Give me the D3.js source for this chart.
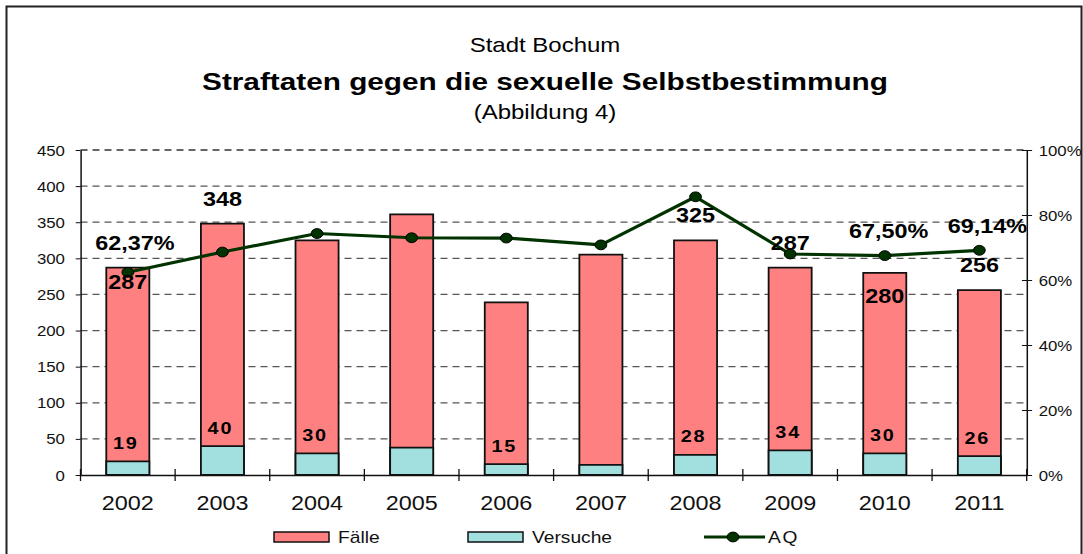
<!DOCTYPE html>
<html>
<head>
<meta charset="utf-8">
<script src="https://cdn.jsdelivr.net/npm/d3@7"></script>
<style>
  html, body { margin: 0; padding: 0; background: #fff; }
  svg { display: block; font-family: "Liberation Sans", Arial, sans-serif; }
</style>
</head>
<body>
<svg width="1083" height="554"></svg>
<script>
// data
const years = ['2002', '2003', '2004', '2005', '2006', '2007', '2008', '2009', '2010', '2011'];
const faelle = [287, 348, 325, 361, 239, 305, 325, 287, 280, 256];
const versuche = [19, 40, 30, 38, 15, 14, 28, 34, 30, 26];
const aq = [62.37, 68.6, 74.3, 73.0, 72.9, 70.8, 85.6, 68.0, 67.50, 69.14];
const leftTicks = [0, 50, 100, 150, 200, 250, 300, 350, 400, 450];
const rightTicks = [0, 20, 40, 60, 80, 100];

// which labels are shown and where they sit (offsets from the mark, px)
const faelleLabelDy = [21, -18, null, null, null, null, -18, -18, 30, -18];
const versucheLabelOn = [true, true, true, false, true, false, true, true, true, true];
const aqLabelOff = [[7, -22], null, null, null, null, null, null, null, [4, -18], [8, -17]];

const svg = d3.select('svg');
const width = +svg.attr('width');
const height = +svg.attr('height');

// the original picture is stretched sideways, so draw in a squeezed space
const S = 1.2;
const X = v => v / S;
const font = '"Liberation Sans", Arial, sans-serif';

const root = svg.append('g').attr('transform', `scale(${S},1)`);

const plot = {left: 80.5, right: 1026.7, top: 150, bottom: 475};

const x = d3.scaleBand()
    .domain(years)
    .range([X(plot.left), X(plot.right)])
    .paddingInner(0.545)
    .paddingOuter(0.2725);
const y = d3.scaleLinear().domain([0, 450]).range([plot.bottom, plot.top]);
const yR = d3.scaleLinear().domain([0, 100]).range([plot.bottom, plot.top]);

const fmtPct = v => d3.format('.2f')(v).replace('.', ',') + '%';

// outer frame
root.append('rect')
    .attr('x', X(6.5)).attr('y', 6.5)
    .attr('width', X(1081.5 - 6.5)).attr('height', 600)
    .attr('fill', 'none').attr('stroke', '#222').attr('stroke-width', 2)
    .attr('vector-effect', 'non-scaling-stroke');

// titles
const cx = X(545);
root.append('text').attr('x', cx).attr('y', 52)
    .attr('text-anchor', 'middle').attr('font-size', 20).attr('fill', '#000')
    .text('Stadt Bochum');
root.append('text').attr('x', cx).attr('y', 90)
    .attr('text-anchor', 'middle').attr('font-size', 24.8).attr('font-weight', 'bold').attr('fill', '#000')
    .text('Straftaten gegen die sexuelle Selbstbestimmung');
root.append('text').attr('x', cx).attr('y', 119)
    .attr('text-anchor', 'middle').attr('font-size', 20).attr('fill', '#000')
    .text('(Abbildung 4)');

// dashed grid
root.append('g').selectAll('line')
    .data(leftTicks.filter(d => d > 0))
    .enter().append('line')
    .attr('x1', X(plot.left)).attr('x2', X(plot.right))
    .attr('y1', d => y(d)).attr('y2', d => y(d))
    .attr('stroke', d => d === 450 ? '#333' : '#555')
    .attr('stroke-width', 1.3)
    .attr('stroke-dasharray', '7,5')
    .attr('vector-effect', 'non-scaling-stroke');

// bars: Fälle, then Versuche drawn over the bottom
const bars = root.append('g');
bars.selectAll('rect.faelle')
    .data(faelle)
    .enter().append('rect')
    .attr('class', 'faelle')
    .attr('x', (d, i) => x(years[i]))
    .attr('width', x.bandwidth())
    .attr('y', d => y(d))
    .attr('height', d => y(0) - y(d))
    .attr('fill', '#FF8080').attr('stroke', '#111').attr('stroke-width', 1.8)
    .attr('vector-effect', 'non-scaling-stroke');

bars.selectAll('rect.versuche')
    .data(versuche)
    .enter().append('rect')
    .attr('class', 'versuche')
    .attr('x', (d, i) => x(years[i]))
    .attr('width', x.bandwidth())
    .attr('y', d => y(d))
    .attr('height', d => y(0) - y(d))
    .attr('fill', '#A2E0E0').attr('stroke', '#111').attr('stroke-width', 1.8)
    .attr('vector-effect', 'non-scaling-stroke');

// left axis
const axL = root.append('g')
    .attr('transform', `translate(${X(plot.left)},0)`)
    .call(d3.axisLeft(y).tickValues(leftTicks).tickSizeInner(4).tickSizeOuter(0).tickPadding(9));
axL.select('.domain').attr('stroke', '#111').attr('stroke-width', 1.5).attr('vector-effect', 'non-scaling-stroke');
axL.selectAll('.tick line').attr('stroke', '#111').attr('vector-effect', 'non-scaling-stroke');
axL.selectAll('.tick text').attr('font-family', font).attr('font-size', 14).attr('fill', '#111').attr('dy', '0.36em');

// right axis
const axR = root.append('g')
    .attr('transform', `translate(${X(plot.right)},0)`)
    .call(d3.axisRight(yR).tickValues(rightTicks).tickSizeInner(4.5).tickSizeOuter(0).tickPadding(5.5)
        .tickFormat(d => d + '%'));
axR.select('.domain').attr('stroke', '#111').attr('stroke-width', 1.5).attr('vector-effect', 'non-scaling-stroke');
axR.selectAll('.tick line').attr('x1', -4).attr('stroke', '#111').attr('vector-effect', 'non-scaling-stroke');
axR.selectAll('.tick text').attr('font-family', font).attr('font-size', 14).attr('fill', '#111')
    .attr('dy', '0.36em');

// bottom axis: labels centred on bars, ticks on the band edges
const axB = root.append('g')
    .attr('transform', `translate(0,${plot.bottom})`)
    .call(d3.axisBottom(x).tickSize(0).tickPadding(21));
axB.select('.domain').attr('stroke', '#111').attr('stroke-width', 1.5).attr('vector-effect', 'non-scaling-stroke');
axB.selectAll('.tick text').attr('font-family', font).attr('font-size', 19.5).attr('fill', '#111');

const edges = d3.range(years.length + 1).map(i => x.range()[0] + i * x.step());
root.append('g').selectAll('line')
    .data(edges)
    .enter().append('line')
    .attr('x1', d => d).attr('x2', d => d)
    .attr('y1', plot.bottom - 6).attr('y2', plot.bottom + 6)
    .attr('stroke', '#111').attr('stroke-width', 1.3)
    .attr('vector-effect', 'non-scaling-stroke');

// AQ line
const mid = i => x(years[i]) + x.bandwidth() / 2;
const line = d3.line().x((d, i) => mid(i)).y(d => yR(d));
root.append('path')
    .datum(aq)
    .attr('d', line)
    .attr('fill', 'none').attr('stroke', '#003300').attr('stroke-width', 3.2)
    .attr('stroke-linejoin', 'round')
    .attr('vector-effect', 'non-scaling-stroke');
root.append('g').selectAll('circle')
    .data(aq)
    .enter().append('circle')
    .attr('cx', (d, i) => mid(i)).attr('cy', d => yR(d)).attr('r', 4.9)
    .attr('fill', '#003300').attr('stroke', '#000').attr('stroke-width', 1)
    .attr('vector-effect', 'non-scaling-stroke');

// value labels
const labels = root.append('g').attr('font-family', font).attr('font-weight', 'bold').attr('fill', '#000');
faelle.forEach((v, i) => {
    if (faelleLabelDy[i] === null) return;
    labels.append('text')
        .attr('x', mid(i)).attr('y', y(v) + faelleLabelDy[i])
        .attr('text-anchor', 'middle').attr('font-size', 19.5)
        .text(v);
});
versuche.forEach((v, i) => {
    if (!versucheLabelOn[i]) return;
    labels.append('text')
        .attr('x', mid(i) - X(2)).attr('y', y(v) - 12.5)
        .attr('text-anchor', 'middle').attr('font-size', 16.5).attr('letter-spacing', 1.5)
        .text(v);
});
aq.forEach((v, i) => {
    const o = aqLabelOff[i];
    if (!o) return;
    labels.append('text')
        .attr('x', mid(i) + X(o[0])).attr('y', yR(v) + o[1])
        .attr('text-anchor', 'middle').attr('font-size', 19.5)
        .text(fmtPct(v));
});

// legend
const legend = root.append('g').attr('font-family', font).attr('font-size', 16).attr('fill', '#111');
const legendItems = [
    {name: 'Fälle', type: 'rect', fill: '#FF8080', x0: 274},
    {name: 'Versuche', type: 'rect', fill: '#A2E0E0', x0: 468},
    {name: 'AQ', type: 'line', fill: '#003300', x0: 704}
];
legendItems.forEach(it => {
    if (it.type === 'rect') {
        legend.append('rect')
            .attr('x', X(it.x0)).attr('y', 532).attr('width', X(55)).attr('height', 10)
            .attr('fill', it.fill).attr('stroke', '#111').attr('stroke-width', 1.5)
            .attr('vector-effect', 'non-scaling-stroke');
        legend.append('text').attr('x', X(it.x0 + 64)).attr('y', 543).text(it.name);
    } else {
        legend.append('line')
            .attr('x1', X(it.x0)).attr('x2', X(it.x0 + 61)).attr('y1', 537).attr('y2', 537)
            .attr('stroke', it.fill).attr('stroke-width', 3.2)
            .attr('vector-effect', 'non-scaling-stroke');
        legend.append('circle')
            .attr('cx', X(it.x0 + 29)).attr('cy', 537).attr('r', 4.9)
            .attr('fill', it.fill).attr('stroke', '#000').attr('stroke-width', 1)
            .attr('vector-effect', 'non-scaling-stroke');
        legend.append('text').attr('x', X(it.x0 + 64)).attr('y', 543)
            .attr('letter-spacing', 1.5).text(it.name);
    }
});
</script>
</body>
</html>
